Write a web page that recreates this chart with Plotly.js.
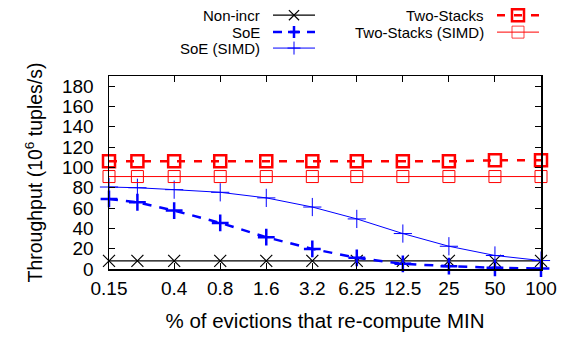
<!DOCTYPE html>
<html>
<head>
<meta charset="utf-8">
<script src="https://cdn.plot.ly/plotly-3.0.1.min.js"></script>
<style>html,body{margin:0;padding:0;background:#fff;}#chart{width:561px;height:337px;}</style>
</head>
<body>
<div id="chart"></div>
<script>
// Data
const evictionPct = [0.15, 0.23, 0.4, 0.8, 1.6, 3.2, 6.25, 12.5, 25, 50, 100];
const nonIncr      = [8, 8, 8, 8, 8, 8, 8, 8, 8, 8, 8];
const soe          = [69, 65.7, 57.5, 45.4, 31.3, 19.8, 11, 5.1, 2.8, 1.2, 0.5];
const soeSimd      = [80.7, 80, 78.1, 75.5, 70, 61, 49.3, 34.9, 22.4, 13.3, 8.3];
const twoStacks    = [106, 106, 106, 106, 106, 106, 106, 106, 106, 107, 107];
const twoStacksSimd= [91, 91, 91, 91, 91, 91, 91, 91, 91, 91, 91];
const xTickVals = [0.15, 0.4, 0.8, 1.6, 3.2, 6.25, 12.5, 25, 50, 100];
const xTickText = ["0.15", "0.4", "0.8", "1.6", "3.2", "6.25", "12.5", "25", "50", "100"];
const yTickVals = [0, 20, 40, 60, 80, 100, 120, 140, 160, 180];
const seriesNames = ["Non-incr", "SoE", "SoE (SIMD)", "Two-Stacks", "Two-Stacks (SIMD)"];

const RED = "#ff0000", BLUE = "#0000ff", BLACK = "#000000";
const FONT = "Liberation Sans, Arial, sans-serif";

const styles = [
  {line: {color: BLACK, width: 1.2}, marker: {symbol: "x-thin-open", size: 12, line: {color: BLACK, width: 1.2}}, glyph: "x"},
  {line: {color: BLUE, width: 2.5, dash: "9px,8px"}, marker: {symbol: "cross-thin-open", size: 12, line: {color: BLUE, width: 2.5}}, glyph: "+"},
  {line: {color: BLUE, width: 1}, marker: {symbol: "cross-thin-open", size: 13, line: {color: BLUE, width: 1}}, glyph: "+"},
  {line: {color: RED, width: 2.5, dash: "8px,9px"}, marker: {symbol: "square-open", size: 12, line: {color: RED, width: 2.5}}, glyph: "s"},
  {line: {color: RED, width: 1}, marker: {symbol: "square-open", size: 12, line: {color: "rgba(255,0,0,0.75)", width: 1}}, glyph: "s"}
];
const seriesData = [nonIncr, soe, soeSimd, twoStacks, twoStacksSimd];

const traces = seriesData.map((ys, i) => ({
  type: "scatter", mode: "lines+markers", name: seriesNames[i],
  x: evictionPct, y: ys, line: styles[i].line, marker: styles[i].marker,
  cliponaxis: false, showlegend: false
}));

// Custom gnuplot-style legend (text right-aligned, sample to the right)
const L = 109, W = 432, B = 269.5, H = 193.5;
const px = v => (v - L) / W;
const py = v => (B - v) / H;
const legendRows = [
  {i: 0, col: 0, row: 15},
  {i: 1, col: 0, row: 32},
  {i: 2, col: 0, row: 48},
  {i: 3, col: 1, row: 15},
  {i: 4, col: 1, row: 32}
];
const cols = [{textRight: 262, x0: 273, x1: 315, xm: 294}, {textRight: 486, x0: 497, x1: 539, xm: 518}];
const annotations = [];
const shapes = [];
legendRows.forEach(r => {
  const c = cols[r.col];
  const st = styles[r.i];
  annotations.push({
    xref: "paper", yref: "paper", x: px(c.textRight), y: py(r.row),
    xanchor: "right", yanchor: "middle", showarrow: false,
    text: seriesNames[r.i], font: {family: FONT, size: 15, color: "#000"}
  });
  shapes.push({type: "line", xref: "paper", yref: "paper",
    x0: px(c.x0), x1: px(c.x1), y0: py(r.row), y1: py(r.row),
    line: {color: st.line.color, width: st.line.width, dash: st.line.dash || "solid"}});
  const half = st.marker.size / 2;
  const base = {xref: "paper", yref: "paper", xsizemode: "pixel", ysizemode: "pixel",
    xanchor: px(c.xm), yanchor: py(r.row),
    line: {color: st.marker.line.color, width: st.marker.line.width}};
  if (st.glyph === "s") {
    shapes.push(Object.assign({type: "rect", x0: -half, x1: half, y0: -half, y1: half, fillcolor: "rgba(0,0,0,0)"}, base));
  } else if (st.glyph === "+") {
    shapes.push(Object.assign({type: "path", path: `M${-half},0 L${half},0 M0,${-half} L0,${half}`}, base));
  } else {
    const h = half * 0.85;
    shapes.push(Object.assign({type: "path", path: `M${-h},${-h} L${h},${h} M${-h},${h} L${h},${-h}`}, base));
  }
});

const layout = {
  width: 561, height: 337,
  margin: {l: 109, r: 20, t: 76, b: 67.5, pad: 0},
  paper_bgcolor: "#fff", plot_bgcolor: "#fff",
  font: {family: FONT, size: 20, color: "#000"},
  showlegend: false,
  xaxis: {
    type: "log", range: [Math.log10(0.15), Math.log10(100)],
    tickvals: xTickVals, ticktext: xTickText,
    ticks: "inside", ticklen: 6, tickwidth: 1, tickcolor: "#000",
    showline: true, linecolor: "#000", linewidth: 1.5, mirror: "ticks",
    showgrid: false, zeroline: false,
    tickfont: {family: FONT, size: 19}, ticklabelstandoff: 2,
    title: {text: "% of evictions that re-compute MIN", font: {family: FONT, size: 20.5}, standoff: 15}
  },
  yaxis: {
    range: [0, 190], tickvals: yTickVals,
    ticks: "inside", ticklen: 6, tickwidth: 1, tickcolor: "#000",
    showline: true, linecolor: "#000", linewidth: 1.5, mirror: "ticks",
    showgrid: false, zeroline: false,
    tickfont: {family: FONT, size: 19}, ticklabelstandoff: 10,
    title: {text: "Throughput (10<sup>6</sup> tuples/s)", font: {family: FONT, size: 19.5}, standoff: 14}
  },
  annotations: annotations,
  shapes: shapes
};

Plotly.newPlot("chart", traces, layout, {displayModeBar: false, staticPlot: true});
</script>
</body>
</html>
